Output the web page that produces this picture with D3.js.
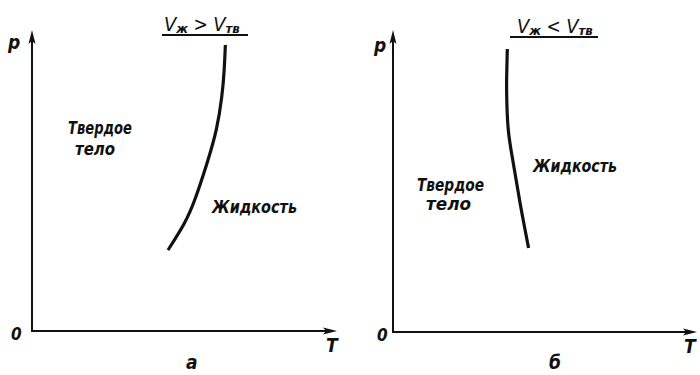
<!DOCTYPE html>
<html>
<head>
<meta charset="utf-8">
<script src="https://cdn.jsdelivr.net/npm/d3@7"></script>
<style>
  html, body { margin: 0; padding: 0; background: #fff; }
  svg text { font-family: "DejaVu Sans Condensed", "DejaVu Sans", sans-serif; font-stretch: condensed; font-style: italic; font-weight: bold; fill: #111; }
</style>
</head>
<body>
<svg id="chart" width="700" height="375"></svg>
<script>
// Melting curves p(T), arbitrary units (0..100 on both axes)
const meltA_T = [63.4, 63.0, 62.2, 60.4, 57.4, 53.7, 50.0, 44.6];
const meltA_p = [95.0, 86.7, 77.7, 66.8, 55.8, 44.5, 35.9, 26.9];
const meltB_T = [37.6, 37.4, 37.4, 37.9, 39.5, 41.8, 44.6];
const meltB_p = [93.7, 85.0, 78.5, 67.2, 56.3, 42.7, 27.8];

// Panel captions and region names
const panelCaptions = ["а", "б"];
const conditionText = [["V", "ж", " > ", "V", "тв"], ["V", "ж", " < ", "V", "тв"]];
const solidLabel = ["Твердое", "тело"];
const liquidLabel = "Жидкость";
const axisLabels = { x: "T", y: "p", origin: "0" };

const svg = d3.select("#chart");
const ink = "#111";

const panels = [
  { x0: 32, x1: 337, y0: 331, y1: 30, T: meltA_T, p: meltA_p,
    cond: { x: 164, y: 31, ul: [162, 248, 35] },
    solid: [{ x: 68, y: 134, len: 64 }, { x: 75, y: 155, len: 40 }],
    liquid: { x: 212, y: 213, len: 85 },
    pLab: { x: 8, y: 49 }, oLab: { x: 11, y: 340 }, tLab: { x: 326, y: 352 }, cap: { x: 186, y: 369 } },
  { x0: 393, x1: 697, y0: 332, y1: 30, T: meltB_T, p: meltB_p,
    cond: { x: 517, y: 33, ul: [510, 598, 37] },
    solid: [{ x: 417, y: 191, len: 67 }, { x: 426, y: 210, len: 45 }],
    liquid: { x: 533, y: 172, len: 84 },
    pLab: { x: 374, y: 52 }, oLab: { x: 377, y: 341 }, tLab: { x: 684, y: 353 }, cap: { x: 549, y: 369 } }
];

// condensed italic label with a fixed run length
function label(g, x, y, size, str, len) {
  return g.append("text").attr("x", x).attr("y", y).attr("font-size", size)
    .attr("textLength", len).attr("lengthAdjust", "spacingAndGlyphs").text(str);
}

panels.forEach((P, i) => {
  const x = d3.scaleLinear().domain([0, 100]).range([P.x0, P.x1]);
  const y = d3.scaleLinear().domain([0, 100]).range([P.y0, P.y1]);
  const g = svg.append("g");

  // axes drawn through the scales
  g.append("line").attr("x1", x(0)).attr("x2", x(100) - 8).attr("y1", y(0)).attr("y2", y(0))
    .attr("stroke", ink).attr("stroke-width", 2);
  g.append("line").attr("x1", x(0)).attr("x2", x(0)).attr("y1", y(0) + 1).attr("y2", y(100) + 8)
    .attr("stroke", ink).attr("stroke-width", 2);
  // arrow heads
  g.append("path")
    .attr("d", `M${x(100)},${y(0)} L${x(100) - 14},${y(0) - 3.5} L${x(100) - 11},${y(0)} L${x(100) - 14},${y(0) + 3.5} Z`)
    .attr("fill", ink);
  g.append("path")
    .attr("d", `M${x(0)},${y(100)} L${x(0) - 3.5},${y(100) + 14} L${x(0)},${y(100) + 11} L${x(0) + 3.5},${y(100) + 14} Z`)
    .attr("fill", ink);

  // melting curve
  const pts = P.T.map((t, k) => [t, P.p[k]]);
  const line = d3.line().x(d => x(d[0])).y(d => y(d[1])).curve(d3.curveNatural);
  g.append("path").attr("d", line(pts)).attr("fill", "none")
    .attr("stroke", ink).attr("stroke-width", 3.2).attr("stroke-linecap", "butt");

  // condition above the curve with underline
  const c = g.append("text").attr("x", P.cond.x).attr("y", P.cond.y);
  const parts = conditionText[i];
  c.append("tspan").attr("font-size", 20).attr("font-weight", "normal").text(parts[0]);
  c.append("tspan").attr("font-size", 13).attr("dy", 2).text(parts[1]);
  c.append("tspan").attr("font-size", 19).attr("font-weight", "normal").attr("dy", -2).text(parts[2]);
  c.append("tspan").attr("font-size", 20).attr("font-weight", "normal").text(parts[3]);
  c.append("tspan").attr("font-size", 13).attr("dy", 2).text(parts[4]);
  g.append("line").attr("x1", P.cond.ul[0]).attr("x2", P.cond.ul[1])
    .attr("y1", P.cond.ul[2]).attr("y2", P.cond.ul[2]).attr("stroke", ink).attr("stroke-width", 2);

  // region names
  P.solid.forEach((s, k) => label(g, s.x, s.y, 17, solidLabel[k], s.len));
  label(g, P.liquid.x, P.liquid.y, 17, liquidLabel, P.liquid.len);

  // axis letters and caption
  g.append("text").attr("x", P.pLab.x).attr("y", P.pLab.y).attr("font-size", 19).text(axisLabels.y);
  g.append("text").attr("x", P.oLab.x).attr("y", P.oLab.y).attr("font-size", 17).text(axisLabels.origin);
  g.append("text").attr("x", P.tLab.x).attr("y", P.tLab.y).attr("font-size", 19).text(axisLabels.x);
  g.append("text").attr("x", P.cap.x).attr("y", P.cap.y).attr("font-size", 19).text(panelCaptions[i]);
});
</script>
</body>
</html>
